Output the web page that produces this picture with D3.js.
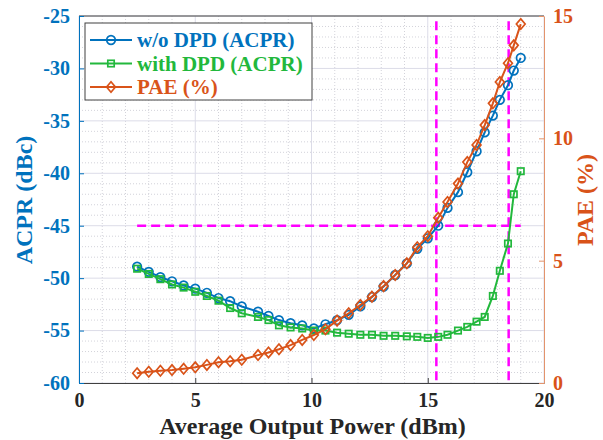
<!DOCTYPE html>
<html>
<head>
<meta charset="utf-8">
<script src="https://cdn.jsdelivr.net/npm/d3@7"></script>
<style>
  body { margin: 0; background: #fff; }
  svg { display: block; font-family: "Liberation Serif", "Times New Roman", serif; font-weight: bold; }
</style>
</head>
<body>
<svg width="603" height="440"></svg>
<script>
// data
const power = [2.5, 3.0, 3.5, 4.0, 4.5, 5.0, 5.5, 6.0, 6.5, 7.0, 7.7, 8.15, 8.6, 9.1, 9.6, 10.1, 10.6, 11.1, 11.6, 12.1,
  12.6, 13.1, 13.6, 14.1, 14.55, 15.0, 15.45, 15.85, 16.3, 16.7, 17.1, 17.45, 17.8, 18.1, 18.45, 18.7, 19.0];
const acprNoDpd = [-48.9, -49.4, -49.9, -50.3, -50.7, -51.0, -51.4, -51.9, -52.2, -52.7, -53.2, -53.6, -54.0, -54.3, -54.5, -54.8, -54.4, -54.0, -53.5, -52.7,
  -51.8, -50.8, -49.7, -48.6, -47.2, -46.2, -45.0, -43.3, -41.8, -39.9, -37.9, -36.1, -34.5, -33.0, -31.6, -30.2, -29.0];
const acprDpd = [-49.1, -49.6, -50.1, -50.6, -50.9, -51.3, -51.7, -52.15, -52.85, -53.35, -53.7, -54.0, -54.5, -54.7, -54.8, -55.0, -55.0, -55.2, -55.3, -55.4,
  -55.4, -55.5, -55.5, -55.55, -55.6, -55.7, -55.6, -55.4, -55.0, -54.65, -54.15, -53.7, -51.7, -49.3, -46.7, -42.0, -39.8];
const pae = [0.40, 0.46, 0.50, 0.53, 0.58, 0.64, 0.74, 0.85, 0.89, 0.95, 1.14, 1.25, 1.38, 1.55, 1.76, 1.96, 2.2, 2.55, 2.85, 3.19,
  3.53, 3.96, 4.41, 4.89, 5.55, 6.0, 6.75, 7.4, 8.15, 9.03, 9.73, 10.54, 11.43, 12.3, 13.07, 13.8, 14.67];
const xTicks = [0, 5, 10, 15, 20];
const acprTicks = [-60, -55, -50, -45, -40, -35, -30, -25];
const paeTicks = [0, 5, 10, 15];
const legendLabels = ["w/o DPD (ACPR)", "with DPD (ACPR)", "PAE (%)"];
// magenta guide lines
const guideAcpr = -45;
const guidePowers = [15.37, 18.48];

const blue = "#0072BD", green = "#22B83C", orange = "#D95319", magenta = "#FF00FF";

const svg = d3.select("svg");
const mLeft = 79, mRight = 544, mTop = 16, mBottom = 383;

const x = d3.scaleLinear().domain([0, 20]).range([mLeft, mRight]);
const yL = d3.scaleLinear().domain([-60, -25]).range([mBottom, mTop]);
const yR = d3.scaleLinear().domain([0, 15]).range([mBottom, mTop]);

// grid
const grid = svg.append("g");
grid.selectAll(".mx").data(d3.range(0, 21, 1).filter(v => v % 5 !== 0)).enter().append("line")
  .attr("x1", d => x(d)).attr("x2", d => x(d)).attr("y1", mTop).attr("y2", mBottom)
  .attr("stroke", "#c8c8d0").attr("stroke-width", 0.8).attr("stroke-dasharray", "1,2");
grid.selectAll(".my").data(d3.range(-60, -24, 1).filter(v => v % 5 !== 0)).enter().append("line")
  .attr("x1", mLeft).attr("x2", mRight).attr("y1", d => yL(d)).attr("y2", d => yL(d))
  .attr("stroke", "#c8c8d0").attr("stroke-width", 0.8).attr("stroke-dasharray", "1,2");
grid.selectAll(".gx").data(xTicks).enter().append("line")
  .attr("x1", d => x(d)).attr("x2", d => x(d)).attr("y1", mTop).attr("y2", mBottom)
  .attr("stroke", "#dcdce8").attr("stroke-width", 1);
grid.selectAll(".gy").data(acprTicks).enter().append("line")
  .attr("x1", mLeft).attr("x2", mRight).attr("y1", d => yL(d)).attr("y2", d => yL(d))
  .attr("stroke", "#dcdce8").attr("stroke-width", 1);

// top border
svg.append("line").attr("x1", mLeft).attr("x2", mRight).attr("y1", mTop).attr("y2", mTop)
  .attr("stroke", "#404040").attr("stroke-width", 1);

// axes
const fmt = d => String(d);
const xAxis = svg.append("g").attr("transform", `translate(0,${mBottom})`)
  .call(d3.axisBottom(x).tickValues(xTicks).tickFormat(fmt).tickSizeInner(-5).tickSizeOuter(0).tickPadding(10))
  .attr("font-family", null).attr("font-size", 20);
xAxis.select(".domain").attr("stroke", "#404040");
xAxis.selectAll("line").attr("stroke", "#404040");
xAxis.selectAll("text").attr("fill", "#262626").attr("dy", "0.7em");

const lAxis = svg.append("g").attr("transform", `translate(${mLeft},0)`)
  .call(d3.axisLeft(yL).tickValues(acprTicks).tickFormat(fmt).tickSizeInner(-5).tickSizeOuter(0).tickPadding(9))
  .attr("font-family", null).attr("font-size", 20);
lAxis.select(".domain").attr("stroke", blue);
lAxis.selectAll("line").attr("stroke", blue);
lAxis.selectAll("text").attr("fill", blue);

const rAxis = svg.append("g").attr("transform", `translate(${mRight},0)`)
  .call(d3.axisRight(yR).tickValues(paeTicks).tickFormat(fmt).tickSizeInner(-5).tickSizeOuter(0).tickPadding(9))
  .attr("font-family", null).attr("font-size", 20);
rAxis.select(".domain").attr("stroke", "#E3946C");
rAxis.selectAll("line").attr("stroke", "#E3946C");
rAxis.selectAll("text").attr("fill", orange);

// axis titles
svg.append("text").attr("x", (mLeft + mRight) / 2 + 1).attr("y", 434).attr("text-anchor", "middle")
  .attr("font-size", 24).attr("fill", "#262626").text("Average Output Power (dBm)");
svg.append("text").attr("transform", "translate(32,200) rotate(-90)").attr("text-anchor", "middle")
  .attr("font-size", 24).attr("fill", blue).text("ACPR (dBc)");
svg.append("text").attr("transform", "translate(593,200) rotate(-90)").attr("text-anchor", "middle")
  .attr("font-size", 24).attr("fill", orange).text("PAE (%)");

// guide lines
const guides = svg.append("g").attr("stroke", magenta).attr("stroke-width", 2.5).attr("stroke-dasharray", "9,5");
guides.append("line").attr("x1", x(power[0])).attr("x2", x(power[power.length - 1]))
  .attr("y1", yL(guideAcpr)).attr("y2", yL(guideAcpr));
guides.selectAll(".v").data(guidePowers).enter().append("line")
  .attr("x1", d => x(d)).attr("x2", d => x(d)).attr("y1", yL(-25.5)).attr("y2", mBottom);

// series
const series = [
  { vals: acprNoDpd, y: yL, color: blue, marker: "circle" },
  { vals: acprDpd, y: yL, color: green, marker: "square" },
  { vals: pae, y: yR, color: orange, marker: "diamond" }
];

function drawMarker(g, type, color) {
  if (type === "circle") {
    g.append("circle").attr("r", 4.3).attr("fill", "none").attr("stroke", color).attr("stroke-width", 1.7);
  } else if (type === "square") {
    g.append("rect").attr("x", -3.2).attr("y", -3.2).attr("width", 6.4).attr("height", 6.4)
      .attr("fill", "none").attr("stroke", color).attr("stroke-width", 1.7);
  } else {
    g.append("path").attr("d", "M0,-5.2L4.4,0L0,5.2L-4.4,0Z")
      .attr("fill", "none").attr("stroke", color).attr("stroke-width", 1.7);
  }
}

series.forEach(s => {
  const line = d3.line().x((d, i) => x(power[i])).y(d => s.y(d));
  svg.append("path").datum(s.vals).attr("d", line).attr("fill", "none")
    .attr("stroke", s.color).attr("stroke-width", 2);
  svg.append("g").selectAll("g").data(s.vals).enter().append("g")
    .attr("transform", (d, i) => `translate(${x(power[i])},${s.y(d)})`)
    .each(function () { drawMarker(d3.select(this), s.marker, s.color); });
});

// legend
const legend = svg.append("g").attr("transform", "translate(85,23)");
legend.append("rect").attr("width", 227).attr("height", 77).attr("fill", "#fff")
  .attr("stroke", "#404040").attr("stroke-width", 1);
const rows = legend.selectAll(".row").data(series).enter().append("g")
  .attr("transform", (d, i) => `translate(0,${17 + i * 23.5})`);
rows.append("line").attr("x1", 5).attr("x2", 47).attr("stroke", d => d.color).attr("stroke-width", 2);
rows.append("g").attr("transform", "translate(26,0)")
  .each(function (d) { drawMarker(d3.select(this), d.marker, d.color); });
rows.append("text").attr("x", 52).attr("dy", "0.35em").attr("font-size", 21)
  .attr("fill", d => d.color).text((d, i) => legendLabels[i]);
</script>
</body>
</html>
